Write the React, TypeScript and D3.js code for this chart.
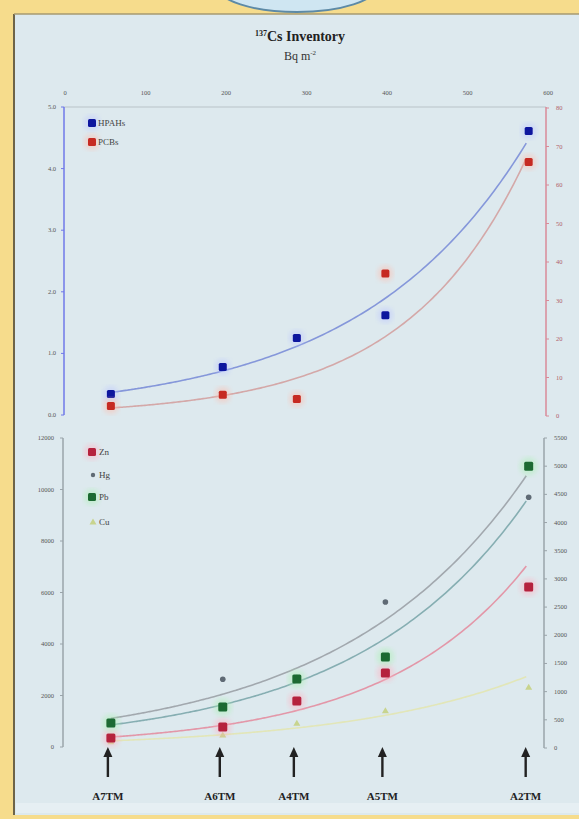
import * as d3 from "d3";

// 137Cs inventory (Bq m-2) at each site
const sites = ["A7TM", "A6TM", "A4TM", "A5TM", "A2TM"];
const csInventory = [57, 196, 288, 398, 576];
const topTicks = [0, 100, 200, 300, 400, 500, 600];

// upper panel
const hpahs = [0.34, 0.78, 1.25, 1.62, 4.61]; // left axis
const pcbs = [2.6, 5.5, 4.4, 37, 66]; // right axis
const upperLeftTicks = [0, 1, 2, 3, 4, 5];
const upperRightTicks = [0, 10, 20, 30, 40, 50, 60, 70, 80];

// lower panel
const zn = [350, 780, 1790, 2870, 6210]; // left axis
const pb = [930, 1550, 2640, 3500, 10900]; // left axis
const hg = [450, 1220, 1250, 2590, 4450]; // right axis
const cu = [110, 230, 440, 660, 1080]; // right axis
const lowerLeftTicks = [0, 2000, 4000, 6000, 8000, 10000, 12000];
const lowerRightTicks = d3.range(0, 5501, 500);

const W = 579;
const H = 819;
const serif = "'Liberation Serif', 'DejaVu Serif', serif";

// exponential trendline (least squares on log values)
function expFit(xs: number[], ys: number[]) {
  const ly = ys.map((v) => Math.log(v));
  const mx = d3.mean(xs)!;
  const my = d3.mean(ly)!;
  let sxy = 0;
  let sxx = 0;
  xs.forEach((x, i) => {
    sxy += (x - mx) * (ly[i] - my);
    sxx += (x - mx) * (x - mx);
  });
  const b = sxy / sxx;
  const a = my - b * mx;
  return (x: number) => Math.exp(a + b * x);
}

export default function App() {
  const x = d3.scaleLinear().domain([0, 600]).range([65, 548]);
  const yUL = d3.scaleLinear().domain([0, 5]).range([415, 107]);
  const yUR = d3.scaleLinear().domain([0, 80]).range([416, 108]);
  const yLL = d3.scaleLinear().domain([0, 12000]).range([747, 438]);
  const yLR = d3.scaleLinear().domain([0, 5500]).range([748, 438]);

  const xs = d3.range(csInventory[0], csInventory[4] + 1, 4);
  const trend = (vals: number[], y: d3.ScaleLinear<number, number>) => {
    const f = expFit(csInventory, vals);
    return d3
      .line<number>()
      .x((d) => x(d))
      .y((d) => y(f(d)))
      .curve(d3.curveMonotoneX)(xs) as string;
  };

  const square = (cx: number, cy: number, fill: string, glow: string, s = 8, key?: string) => (
    <g key={key}>
      <circle cx={cx} cy={cy} r={s} fill={glow} opacity={0.45} filter="url(#soft)" />
      <rect x={cx - s / 2} y={cy - s / 2} width={s} height={s} rx={1.5} fill={fill} filter="url(#tiny)" />
    </g>
  );
  const dot = (cx: number, cy: number, fill: string, r = 2.5, key?: string) => (
    <circle key={key} cx={cx} cy={cy} r={r} fill={fill} filter="url(#tiny)" />
  );
  const tri = (cx: number, cy: number, fill: string, key?: string) => (
    <path
      key={key}
      d={`M${cx},${cy - 3.5}L${cx + 3.5},${cy + 2.5}L${cx - 3.5},${cy + 2.5}Z`}
      fill={fill}
      filter="url(#tiny)"
    />
  );

  const tickText = { fontSize: 6.5, fill: "#555", fontFamily: serif };

  return (
    <svg width={W} height={H} style={{ position: "absolute", left: 0, top: 0 }}>
      <defs>
        <filter id="soft">
          <feGaussianBlur stdDeviation={2.5} />
        </filter>
        <filter id="tiny">
          <feGaussianBlur stdDeviation={0.5} />
        </filter>
      </defs>

      {/* poster frame */}
      <rect x={0} y={0} width={W} height={H} fill="#f6dc8c" />
      <rect x={14} y={14} width={W - 14} height={801} fill="#dde9ee" />
      <line x1={14} x2={14} y1={14} y2={815} stroke="#6e6448" strokeWidth={2} />
      <line x1={14} x2={W} y1={14} y2={14} stroke="#a69a70" strokeWidth={1.5} />
      <rect x={16} y={803} width={W - 16} height={10} fill="#e6eff3" />
      <ellipse cx={297} cy={-14} rx={80} ry={26} fill="#cfe6f2" stroke="#5d8aa6" strokeWidth={2} />

      {/* title */}
      <text x={300} y={41} textAnchor="middle" fontFamily={serif} fontWeight="bold" fontSize={14} fill="#222">
        <tspan fontSize={8} dy={-5}>137</tspan>
        <tspan dy={5}>Cs Inventory</tspan>
      </text>
      <text x={300} y={60} textAnchor="middle" fontFamily={serif} fontSize={12} fill="#333">
        Bq m<tspan fontSize={7} dy={-5}>-2</tspan>
      </text>

      {/* top x axis */}
      <line x1={64} x2={546} y1={107} y2={107} stroke="#b9c3c8" strokeWidth={1} />
      {topTicks.map((t) => (
        <text key={t} x={x(t)} y={95} textAnchor="middle" {...tickText}>
          {t}
        </text>
      ))}

      {/* upper panel axes */}
      <line x1={64} x2={64} y1={107} y2={415} stroke="#6f78e8" strokeWidth={1.5} />
      {upperLeftTicks.map((t) => (
        <g key={t}>
          <line x1={61} x2={64} y1={yUL(t)} y2={yUL(t)} stroke="#6f78e8" />
          <text x={56} y={yUL(t) + 2} textAnchor="end" {...tickText}>
            {t.toFixed(1)}
          </text>
        </g>
      ))}
      <line x1={546} x2={546} y1={107} y2={416} stroke="#d98a98" strokeWidth={1.5} />
      {upperRightTicks.map((t) => (
        <g key={t}>
          <line x1={546} x2={549} y1={yUR(t)} y2={yUR(t)} stroke="#d98a98" />
          <text x={556} y={yUR(t) + 2} {...tickText} fill="#b0606a">
            {t}
          </text>
        </g>
      ))}

      {/* upper trendlines */}
      <path d={trend(hpahs, yUL)} fill="none" stroke="#8597da" strokeWidth={1.6} />
      <path d={trend(pcbs, yUR)} fill="none" stroke="#d4a8a8" strokeWidth={1.6} />

      {/* upper points */}
      {hpahs.map((v, i) => square(x(csInventory[i]), yUL(v), "#10149e", "#b9c4ff", 8, "h" + i))}
      {pcbs.map((v, i) => square(x(csInventory[i]), yUR(v), "#c62a22", "#ffb9a8", 8, "p" + i))}

      {/* upper legend */}
      {square(92, 123, "#10149e", "#b9c4ff", 8)}
      <text x={98} y={126} fontFamily={serif} fontSize={9} fill="#444">HPAHs</text>
      {square(92, 142, "#c62a22", "#ffb9a8", 8)}
      <text x={98} y={145} fontFamily={serif} fontSize={9} fill="#444">PCBs</text>

      {/* lower panel axes */}
      <line x1={63} x2={63} y1={438} y2={747} stroke="#9aa4aa" strokeWidth={1.5} />
      {lowerLeftTicks.map((t) => (
        <g key={t}>
          <line x1={60} x2={63} y1={yLL(t)} y2={yLL(t)} stroke="#9aa4aa" />
          <text x={54} y={yLL(t) + 2} textAnchor="end" {...tickText}>
            {t}
          </text>
        </g>
      ))}
      <line x1={544} x2={544} y1={438} y2={748} stroke="#9aa4aa" strokeWidth={1.5} />
      {lowerRightTicks.map((t) => (
        <g key={t}>
          <line x1={544} x2={547} y1={yLR(t)} y2={yLR(t)} stroke="#9aa4aa" />
          <text x={554} y={yLR(t) + 2} {...tickText}>
            {t}
          </text>
        </g>
      ))}

      {/* lower trendlines */}
      <path d={trend(cu, yLR)} fill="none" stroke="#e2e6b8" strokeWidth={1.6} />
      <path d={trend(zn, yLL)} fill="none" stroke="#e397a8" strokeWidth={1.6} />
      <path d={trend(pb, yLL)} fill="none" stroke="#86aeb2" strokeWidth={1.6} />
      <path d={trend(hg, yLR)} fill="none" stroke="#a2a8ae" strokeWidth={1.6} />

      {/* lower points */}
      {cu.map((v, i) => tri(x(csInventory[i]), yLR(v), "#c8d48e", "c" + i))}
      {hg.map((v, i) => dot(x(csInventory[i]), yLR(v), "#5f6a74", 2.8, "g" + i))}
      {zn.map((v, i) => square(x(csInventory[i]), yLL(v), "#b5203e", "#ffb0c0", 9, "z" + i))}
      {pb.map((v, i) => square(x(csInventory[i]), yLL(v), "#1c6a30", "#a8f0b0", 9, "b" + i))}

      {/* lower legend */}
      {square(92, 452, "#b5203e", "#ffb0c0", 8)}
      <text x={99} y={455} fontFamily={serif} fontSize={9} fill="#444">Zn</text>
      {dot(93, 475, "#5f6a74", 2.2)}
      <text x={99} y={478} fontFamily={serif} fontSize={9} fill="#444">Hg</text>
      {square(92, 497, "#1c6a30", "#a8f0b0", 8)}
      <text x={99} y={500} fontFamily={serif} fontSize={9} fill="#444">Pb</text>
      {tri(93, 522, "#c8d48e")}
      <text x={99} y={525} fontFamily={serif} fontSize={9} fill="#444">Cu</text>

      {/* site arrows */}
      {sites.map((s, i) => {
        const ax = x(csInventory[i]) - 3;
        return (
          <g key={s}>
            <line x1={ax} x2={ax} y1={755} y2={777} stroke="#222" strokeWidth={2.4} />
            <path d={`M${ax},${747}L${ax + 4.5},${757}L${ax - 4.5},${757}Z`} fill="#222" />
            <text x={ax} y={800} textAnchor="middle" fontFamily={serif} fontWeight="bold" fontSize={11} fill="#222">
              {s}
            </text>
          </g>
        );
      })}
    </svg>
  );
}
